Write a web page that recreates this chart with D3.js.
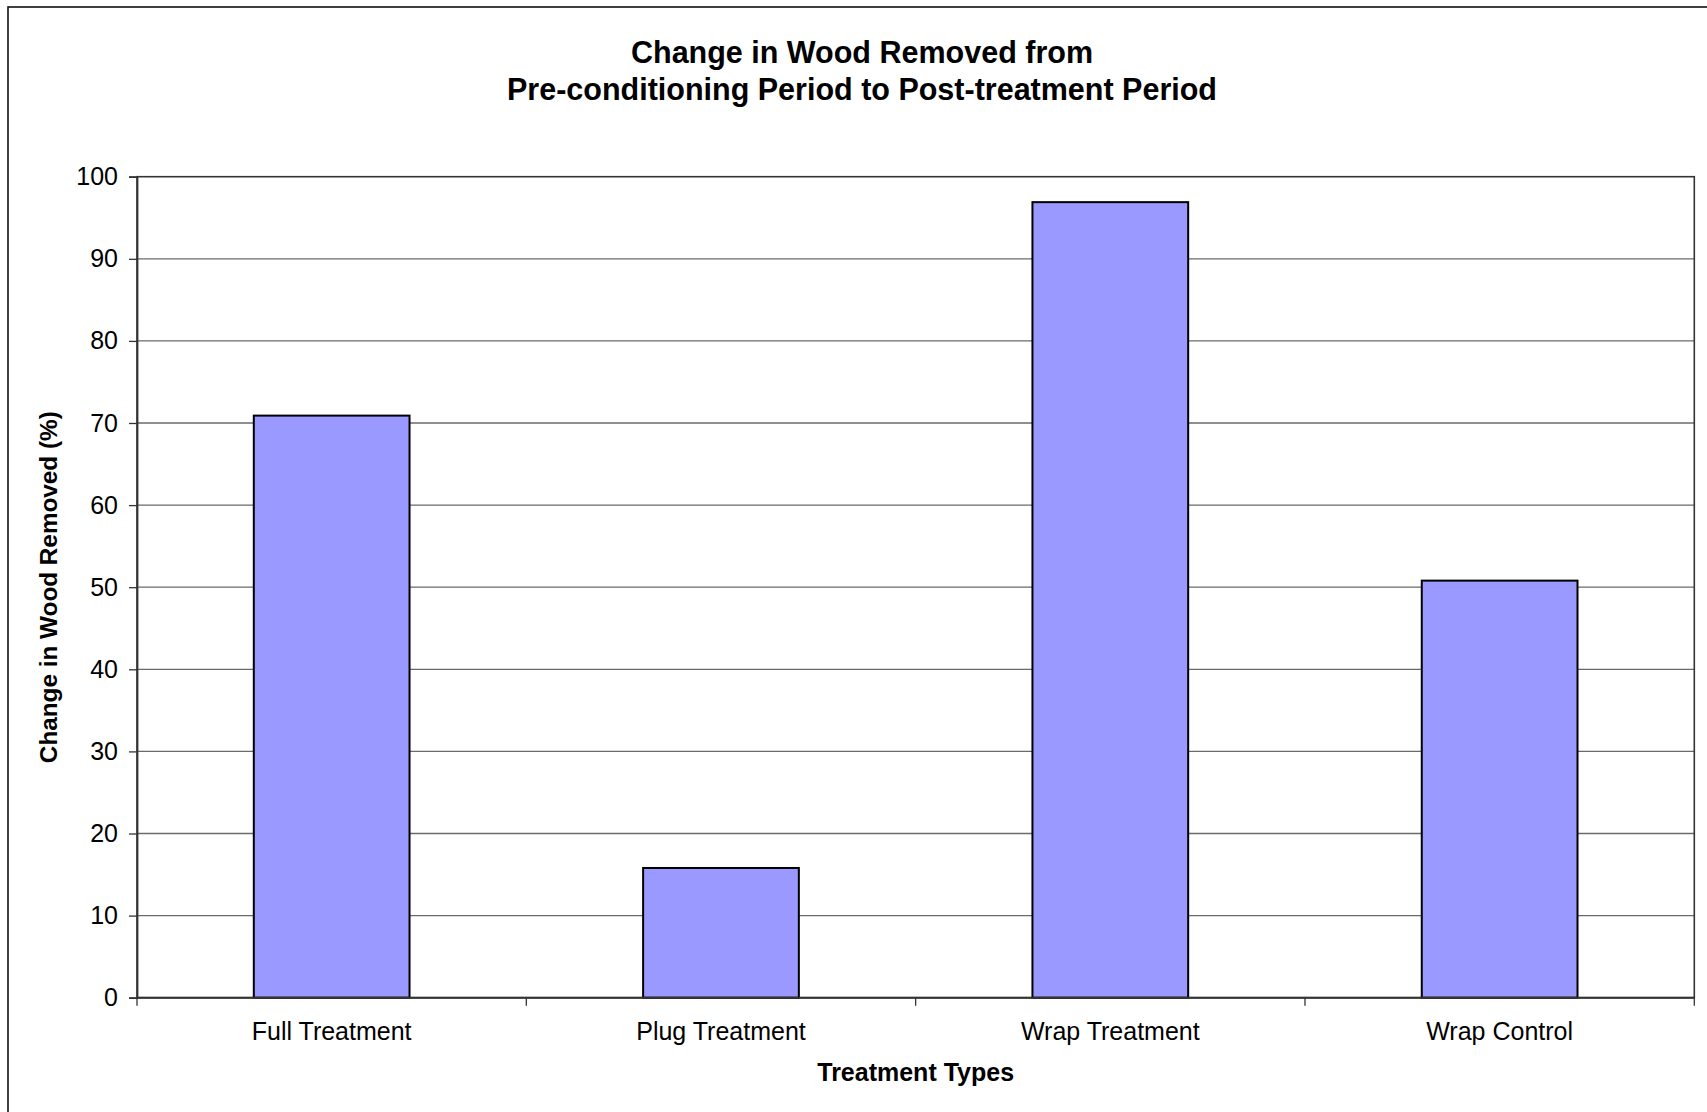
<!DOCTYPE html>
<html>
<head>
<meta charset="utf-8">
<script src="https://cdn.jsdelivr.net/npm/d3@7"></script>
<style>
  html, body { margin: 0; padding: 0; background: #fff; overflow: hidden; }
  svg { display: block; font-family: "Liberation Sans", Arial, sans-serif; }
</style>
</head>
<body>
<svg id="chart" width="1707" height="1112"></svg>
<script>
// Treatment categories and the change in wood removed (%) for each
const categories = ["Full Treatment", "Plug Treatment", "Wrap Treatment", "Wrap Control"];
const changeValues = [70.9, 15.8, 96.9, 50.8];
const yTicks = [0, 10, 20, 30, 40, 50, 60, 70, 80, 90, 100];
const titleLines = ["Change in Wood Removed from", "Pre-conditioning Period to Post-treatment Period"];
const xTitle = "Treatment Types";
const yTitle = "Change in Wood Removed (%)";

const svg = d3.select("#chart");
const W = 1707, H = 1112;
const plot = { left: 137, top: 176.7, right: 1694.3, bottom: 997.7 };

// Chart area frame (runs past the right and bottom edges)
svg.append("rect")
  .attr("x", 8).attr("y", 7)
  .attr("width", W + 20).attr("height", H + 20)
  .attr("fill", "#fff").attr("stroke", "#111").attr("stroke-width", 1.6);

const x = d3.scaleBand()
  .domain(categories)
  .range([plot.left, plot.right])
  .paddingInner(0.6)
  .paddingOuter(0.3);

const y = d3.scaleLinear()
  .domain([0, 100])
  .range([plot.bottom, plot.top]);

// Horizontal gridlines
svg.append("g")
  .selectAll("line")
  .data(yTicks.filter(t => t > 0 && t < 100))
  .join("line")
  .attr("x1", plot.left).attr("x2", plot.right)
  .attr("y1", d => y(d)).attr("y2", d => y(d))
  .attr("stroke", "#6a6a6a").attr("stroke-width", 1.3);

// Plot area border
svg.append("rect")
  .attr("x", plot.left).attr("y", plot.top)
  .attr("width", plot.right - plot.left).attr("height", plot.bottom - plot.top)
  .attr("fill", "none").attr("stroke", "#333").attr("stroke-width", 1.6);

// Bars
svg.append("g")
  .selectAll("rect")
  .data(categories.map((c, i) => ({ c, v: changeValues[i] })))
  .join("rect")
  .attr("x", d => x(d.c))
  .attr("y", d => y(d.v))
  .attr("width", x.bandwidth())
  .attr("height", d => y(0) - y(d.v))
  .attr("fill", "#9999FF")
  .attr("stroke", "#000")
  .attr("stroke-width", 2);

// Y axis
const yAxis = d3.axisLeft(y)
  .tickValues(yTicks)
  .tickSize(8)
  .tickPadding(11)
  .tickFormat(d3.format("d"));
const gy = svg.append("g")
  .attr("transform", `translate(${plot.left},0)`)
  .call(yAxis);
gy.select(".domain").attr("stroke", "#333").attr("stroke-width", 1.8);
gy.selectAll(".tick line").attr("stroke", "#333").attr("stroke-width", 1.3);
gy.selectAll(".tick text")
  .attr("fill", "#000")
  .style("font-size", "25px")
  .attr("font-family", "Liberation Sans, Arial, sans-serif");

// X axis: ticks sit on the category boundaries
const boundaries = categories.map(c => x(c) - x.step() * x.paddingInner() / 2).concat([plot.right]);
const xAxisG = svg.append("g");
xAxisG.append("line")
  .attr("x1", plot.left).attr("x2", plot.right)
  .attr("y1", y(0)).attr("y2", y(0))
  .attr("stroke", "#333").attr("stroke-width", 2);
xAxisG.selectAll("line.xtick")
  .data(boundaries)
  .join("line")
  .attr("class", "xtick")
  .attr("x1", d => d).attr("x2", d => d)
  .attr("y1", y(0)).attr("y2", y(0) + 8)
  .attr("stroke", "#333").attr("stroke-width", 1.3);
xAxisG.selectAll("text")
  .data(categories)
  .join("text")
  .attr("x", d => x(d) + x.bandwidth() / 2)
  .attr("y", 1040)
  .attr("text-anchor", "middle")
  .style("font-size", "25px")
  .attr("fill", "#000")
  .text(d => d);

// Titles
svg.append("g")
  .selectAll("text")
  .data(titleLines)
  .join("text")
  .attr("x", 862)
  .attr("y", (d, i) => 63 + i * 37)
  .attr("text-anchor", "middle")
  .style("font-size", "30.5px")
  .style("font-weight", "bold")
  .attr("fill", "#000")
  .text(d => d);

svg.append("text")
  .attr("x", (plot.left + plot.right) / 2)
  .attr("y", 1081)
  .attr("text-anchor", "middle")
  .style("font-size", "25px")
  .style("font-weight", "bold")
  .text(xTitle);

svg.append("text")
  .attr("transform", `translate(57,${(plot.top + plot.bottom) / 2}) rotate(-90)`)
  .attr("text-anchor", "middle")
  .style("font-size", "24.3px")
  .style("font-weight", "bold")
  .text(yTitle);
</script>
</body>
</html>
